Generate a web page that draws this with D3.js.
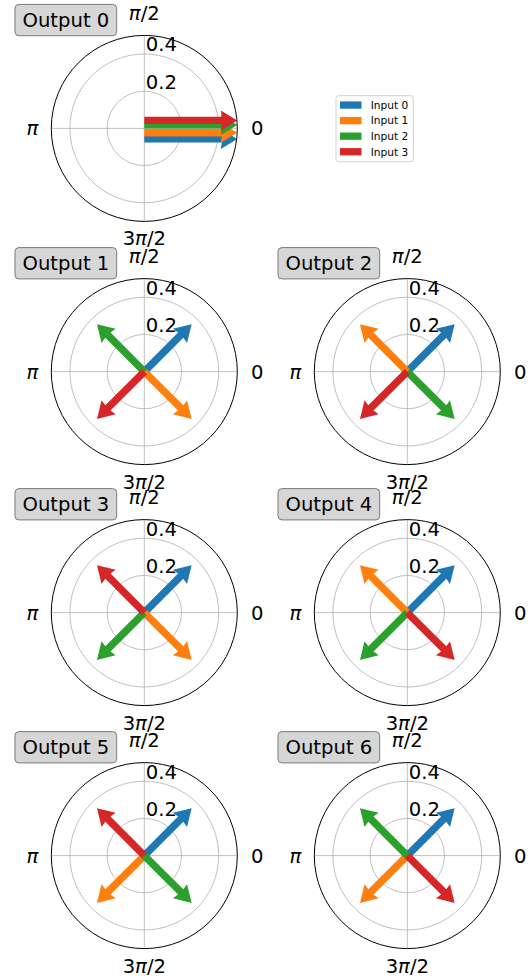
<!DOCTYPE html>
<html><head><meta charset="utf-8">
<script src="https://cdn.jsdelivr.net/npm/d3@7"></script>
<style>
html,body{margin:0;padding:0;background:#fff;}
svg{display:block;font-family:"DejaVu Sans",sans-serif;}
</style></head>
<body><svg id="c" width="529" height="978"></svg>
<script>
// ---- data ----
const outputs = ["Output 0","Output 1","Output 2","Output 3","Output 4","Output 5","Output 6"];
const inputs = ["Input 0","Input 1","Input 2","Input 3"];
const colors = ["#1f77b4","#ff7f0e","#2ca02c","#d62728"];
// magnitude of each input's contribution, per output
const magnitudes = [
  [0.5,0.5,0.5,0.5],
  [0.36,0.36,0.36,0.36],
  [0.36,0.36,0.36,0.36],
  [0.36,0.36,0.36,0.36],
  [0.36,0.36,0.36,0.36],
  [0.36,0.36,0.36,0.36],
  [0.36,0.36,0.36,0.36]
];
// phase in units of pi, per output
const phases = [
  [0,0,0,0],
  [0.25,-0.25,0.75,-0.75],
  [0.25,0.75,-0.25,-0.75],
  [0.25,-0.25,-0.75,0.75],
  [0.25,0.75,-0.75,-0.25],
  [0.25,-0.75,-0.25,0.75],
  [0.25,-0.75,0.75,-0.25]
];
const rTicks = [0.2,0.4];
const rMax = 0.5;
const thetaTicks = [0,0.5,1,1.5];
const thetaLabels = [["0"],["π","/2"],["π"],["3","π","/2"]];

// ---- layout ----
const svg = d3.select("#c");
const R = 93;
const colX = [144.3,407.3];
const rowY = [128.4,371.6,612.6,855.6];
const centers = [[colX[0],rowY[0]],[colX[0],rowY[1]],[colX[1],rowY[1]],[colX[0],rowY[2]],[colX[1],rowY[2]],[colX[0],rowY[3]],[colX[1],rowY[3]]];
const r = d3.scaleLinear().domain([0,rMax]).range([0,R]);
const FS = 19.6;
// perpendicular shift (px) used when several arrows share one direction
const stackShift = [10.5,4.3,-3.5,-8];
// label distance from centre for each theta tick (px)
const labelDist = [113,115.5,112,110];

function arrowPath(L){
  const w=3.7, hw=10, hl=16.5, ha=15.5;
  return `M0,${-w}L${L-ha},${-w}L${L-hl},${-hw}L${L},0L${L-hl},${hw}L${L-ha},${w}L0,${w}Z`;
}

outputs.forEach((name,k)=>{
  const [cx,cy] = centers[k];
  const g = svg.append("g").attr("transform",`translate(${cx},${cy})`);
  const cid = "clip"+k;
  g.append("clipPath").attr("id",cid).append("circle").attr("r",R);
  rTicks.forEach(t=>g.append("circle").attr("r",r(t)).attr("fill","none").attr("stroke","#b0b0b0").attr("stroke-width",0.8));
  thetaTicks.forEach(t=>{
    const a=t*Math.PI;
    g.append("line").attr("x1",0).attr("y1",0).attr("x2",R*Math.cos(a)).attr("y2",-R*Math.sin(a))
      .attr("stroke","#b0b0b0").attr("stroke-width",0.8);
  });
  const ag = g.append("g").attr("clip-path",`url(#${cid})`);
  const ph = phases[k];
  inputs.forEach((inp,i)=>{
    const deg = ph[i]*180;
    const shared = ph.filter(p=>p===ph[i]).length>1;
    const off = shared ? stackShift[i] : 0;
    ag.append("path").attr("d",arrowPath(r(magnitudes[k][i])))
      .attr("transform",`rotate(${-deg}) translate(0,${off})`)
      .attr("fill",colors[i]);
  });
  g.append("circle").attr("r",R).attr("fill","none").attr("stroke","#000").attr("stroke-width",1);
  rTicks.forEach(t=>g.append("text").attr("x",1.4).attr("y",-r(t)-2.7).attr("font-size",FS).attr("fill","#000").text(t.toFixed(1)));
  thetaTicks.forEach((t,j)=>{
    const a=t*Math.PI, d=labelDist[j];
    const tx = g.append("text").attr("x",d*Math.cos(a)).attr("y",-d*Math.sin(a)).attr("dy","0.36em")
      .attr("text-anchor","middle").attr("font-size",FS).attr("fill","#000");
    thetaLabels[j].forEach(s=>tx.append("tspan").attr("font-style",s==="π"?"italic":"normal").text(s));
  });
  const tb = g.append("g");
  tb.append("rect").attr("x",-129.3).attr("y",-124).attr("width",101.7).attr("height",31.3).attr("rx",4)
    .attr("fill","#d6d6d6").attr("stroke","#7a7a7a").attr("stroke-width",1);
  tb.append("text").attr("x",-78.4).attr("y",-108.3).attr("dy","0.36em").attr("text-anchor","middle")
    .attr("font-size",FS).attr("fill","#000").text(name);
});

// legend
const lg = svg.append("g");
lg.append("rect").attr("x",336).attr("y",95.7).attr("width",77.3).attr("height",66).attr("rx",2.5)
  .attr("fill","#fff").attr("stroke","#d0d0d0").attr("stroke-width",1);
const ly = d3.scalePoint().domain(inputs).range([105,151.7]);
inputs.forEach((inp,i)=>{
  lg.append("rect").attr("x",340).attr("y",ly(inp)-3.6).attr("width",21.5).attr("height",7.3).attr("fill",colors[i]);
  lg.append("text").attr("x",370.7).attr("y",ly(inp)).attr("dy","0.36em").attr("font-size",10.6).attr("fill","#000").text(inp);
});
</script></body></html>
